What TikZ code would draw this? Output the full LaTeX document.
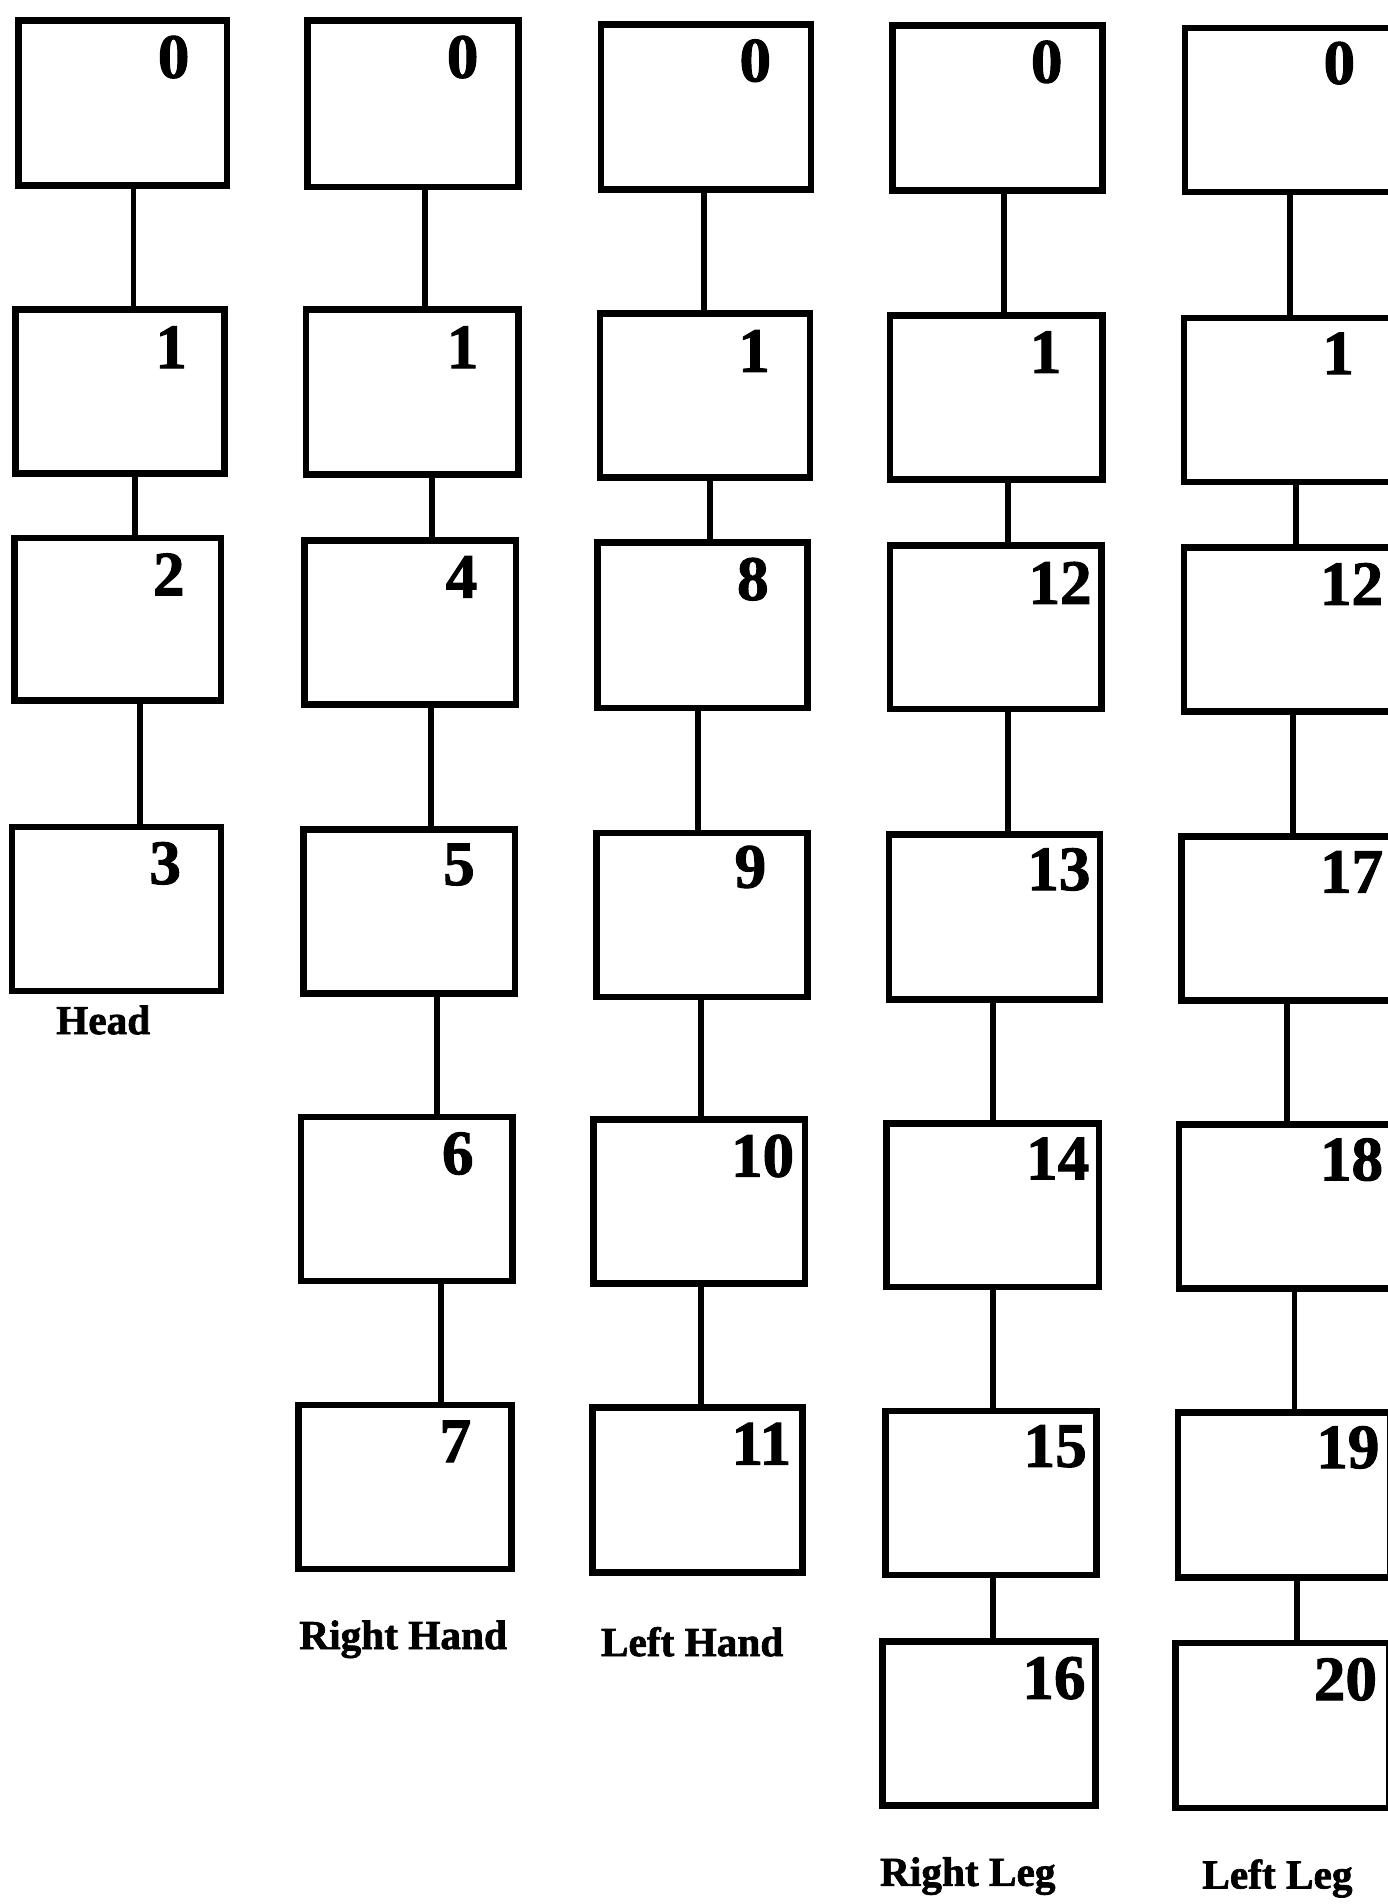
\documentclass[tikz,border=0pt]{standalone}
\usepackage{fontspec}
\setmainfont{Liberation Serif}
\newfontfamily\heavyfont{Liberation Serif Bold}[FakeBold=1.6]
\usetikzlibrary{calc}
\tikzset{
  boxst/.style={draw=black, line width=5.5pt, inner sep=0pt, fill=none},
  numst/.style={inner sep=0pt, font=\fontsize{52}{52}\selectfont\heavyfont},
  labst/.style={inner sep=0pt, font=\fontsize{34}{36}\selectfont\heavyfont},
  connst/.style={draw=black, line width=4.8pt}
}
\newcommand\mybox[8]{%
  \node[boxst, minimum width={#4-#2}, minimum height={#5-#3}] (#1) at ({(#2+#4)/2},{(#3+#5)/2}) {};
  \node[numst] (#1n) at (#7,#8) {#6};
}
\newcommand\mylink[3]{%
  \draw[connst] (#1.south -| #3,0) -- (#2.north -| #3,0);
}
\begin{document}
\begin{tikzpicture}[x=1pt,y=-1pt]
\path[use as bounding box] (0,0) rectangle (1143,1568);
\clip (0,0) rectangle (1143,1568);
\fill[white] (0,0) rectangle (1143,1568);
% Column 1: Head
\mybox{a0}{15}{17}{187}{153}{0}{143}{47}
\mybox{a1}{13}{255}{185}{390}{1}{141}{286}
\mybox{a2}{12}{443}{182}{577}{2}{139}{473}
\mybox{a3}{10}{681}{182}{816}{3}{136}{711}
\mylink{a0}{a1}{110}
\mylink{a1}{a2}{111}
\mylink{a2}{a3}{115}
\node[labst] (lhead) at (85,840) {Head};
% Column 2: Right Hand
\mybox{b0}{253}{17}{427}{154}{0}{381}{47}
\mybox{b1}{252}{255}{427}{391}{1}{381}{286}
\mybox{b4}{251}{445}{425}{580}{4}{380}{475}
\mybox{b5}{250}{683}{424}{818}{5}{378}{712}
\mybox{b6}{248}{920}{422}{1055}{6}{377}{950}
\mybox{b7}{246}{1157}{421}{1292}{7}{375}{1187}
\mylink{b0}{b1}{350}
\mylink{b1}{b4}{356}
\mylink{b4}{b5}{355}
\mylink{b5}{b6}{360}
\mylink{b6}{b7}{363}
\node[labst] (lrh) at (332,1350) {Right Hand};
% Column 3: Left Hand
\mybox{c0}{495}{20}{668}{156}{0}{622}{50}
\mybox{c1}{494}{258}{667}{393}{1}{621}{289}
\mybox{c8}{492}{447}{665}{583}{8}{620}{477}
\mybox{c9}{491}{686}{665}{821}{9}{618}{714}
\mybox{c10}{489}{922}{663}{1057}{10}{628}{952}
\mybox{c11}{488}{1159}{661}{1295}{11}{627}{1189}
\mylink{c0}{c1}{580}
\mylink{c1}{c8}{585}
\mylink{c8}{c9}{575}
\mylink{c9}{c10}{577}
\mylink{c10}{c11}{577}
\node[labst] (llh) at (570,1352) {Left Hand};
% Column 4: Right Leg
\mybox{d0}{735}{21}{908}{157}{0}{862}{51}
\mybox{d1}{733}{260}{908}{395}{1}{861}{290}
\mybox{d12}{733}{449}{907}{584}{12}{873}{480}
\mybox{d13}{732}{687}{906}{823}{13}{872}{716}
\mybox{d14}{730}{925}{905}{1060}{14}{871}{954}
\mybox{d15}{729}{1162}{903}{1297}{15}{869}{1191}
\mybox{d16}{727}{1352}{902}{1487}{16}{868}{1382}
\mylink{d0}{d1}{827}
\mylink{d1}{d12}{830}
\mylink{d12}{d13}{830}
\mylink{d13}{d14}{818}
\mylink{d14}{d15}{818}
\mylink{d15}{d16}{818}
\node[labst] (lrl) at (797,1545) {Right Leg};
% Column 5: Left Leg
\mybox{e0}{976}{23}{1150}{158}{0}{1103}{52}
\mybox{e1}{975}{262}{1150}{397}{1}{1102}{291}
\mybox{e12}{975}{451}{1150}{586}{12}{1113}{481}
\mybox{e17}{973}{689}{1148}{824}{17}{1113}{718}
\mybox{e18}{971}{926}{1146}{1061}{18}{1113}{955}
\mybox{e19}{970}{1163}{1145}{1299}{19}{1110}{1192}
\mybox{e20}{968}{1353}{1144}{1489}{20}{1108}{1383}
\mylink{e0}{e1}{1062}
\mylink{e1}{e12}{1067}
\mylink{e12}{e17}{1065}
\mylink{e17}{e18}{1060}
\mylink{e18}{e19}{1066}
\mylink{e19}{e20}{1068}
\node[labst] (lll) at (1052,1547) {Left Leg};
\end{tikzpicture}
\end{document}
